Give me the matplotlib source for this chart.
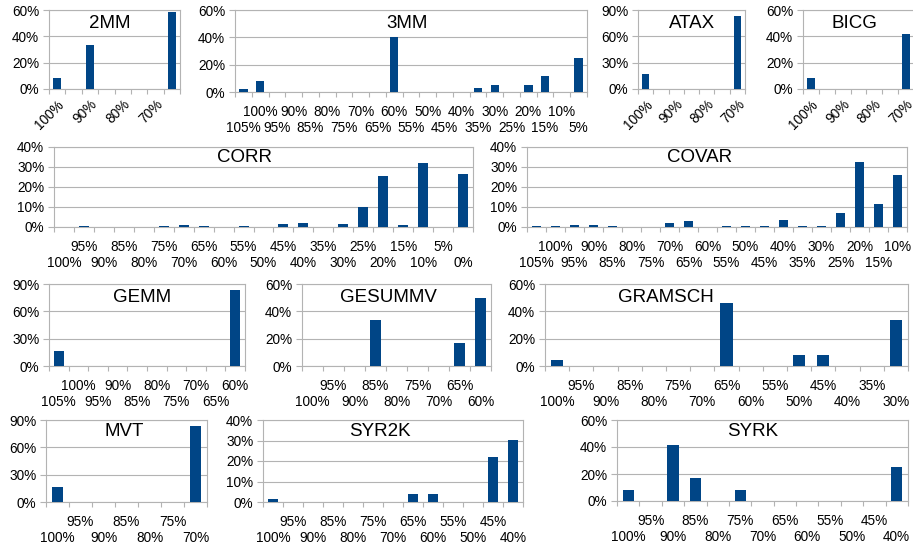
import numpy as np
import matplotlib
matplotlib.use("Agg")
import matplotlib.pyplot as plt
from matplotlib.ticker import FuncFormatter

plt.rcParams['font.family'] = ['Liberation Sans', 'DejaVu Sans']

W, H = 913, 548
BLUE = '#004586'
GREY = '#b3b3b3'

# data: share of runs per approximation level (percent)
cats_2mm = ["100%", "95%", "90%", "85%", "80%", "75%", "70%", "65%"]
vals_2mm = [8.3, 0, 33.3, 0, 0, 0, 0, 58.3]

cats_3mm = ["105%", "100%", "95%", "90%", "85%", "80%", "75%", "70%", "65%", "60%", "55%",
            "50%", "45%", "40%", "35%", "30%", "25%", "20%", "15%", "10%", "5%"]
vals_3mm = [2.4, 7.8, 0, 0, 0, 0, 0, 0, 0, 40, 0, 0, 0, 0, 3.2, 5.4, 0, 5.4, 12, 0, 25.1]

cats_atax = ["100%", "95%", "90%", "85%", "80%", "75%", "70%"]
vals_atax = [16.7, 0, 0, 0, 0, 0, 83.3]

cats_bicg = ["100%", "95%", "90%", "85%", "80%", "75%", "70%"]
vals_bicg = [8.3, 0, 0, 0, 0, 0, 41.7]

cats_corr = ["100%", "95%", "90%", "85%", "80%", "75%", "70%", "65%", "60%", "55%", "50%",
             "45%", "40%", "35%", "30%", "25%", "20%", "15%", "10%", "5%", "0%"]
vals_corr = [0, 0.3, 0, 0, 0, 0.3, 0.8, 0.3, 0, 0.3, 0,
             1.3, 2.1, 0, 1.3, 10.2, 25.5, 0.8, 31.9, 0, 26.6]

cats_covar = ["105%", "100%", "95%", "90%", "85%", "80%", "75%", "70%", "65%", "60%",
              "55%", "50%", "45%", "40%", "35%", "30%", "25%", "20%", "15%", "10%"]
vals_covar = [0.3, 0.3, 1.2, 1.2, 0.3, 0, 0, 2.1, 3.1, 0,
              0.3, 0.3, 0.3, 3.6, 0.3, 0.7, 7.1, 32.4, 11.6, 26]

cats_gemm = ["105%", "100%", "95%", "90%", "85%", "80%", "75%", "70%", "65%", "60%"]
vals_gemm = [16.7, 0, 0, 0, 0, 0, 0, 0, 0, 83.3]

cats_gesummv = ["100%", "95%", "90%", "85%", "80%", "75%", "70%", "65%", "60%"]
vals_gesummv = [0, 0, 0, 33.3, 0, 0, 0, 16.7, 50]

cats_gramsch = ["100%", "95%", "90%", "85%", "80%", "75%", "70%", "65%", "60%", "55%",
                "50%", "45%", "40%", "35%", "30%"]
vals_gramsch = [4.2, 0, 0, 0, 0, 0, 0, 45.8, 0, 0, 8.3, 8.3, 0, 0, 33.3]

cats_mvt = ["100%", "95%", "90%", "85%", "80%", "75%", "70%"]
vals_mvt = [16.7, 0, 0, 0, 0, 0, 83.3]

cats_syr2k = ["100%", "95%", "90%", "85%", "80%", "75%", "70%", "65%", "60%", "55%",
              "50%", "45%", "40%"]
vals_syr2k = [1.7, 0, 0, 0, 0, 0, 0, 3.8, 3.8, 0, 0, 22, 30.3]

cats_syrk = ["100%", "95%", "90%", "85%", "80%", "75%", "70%", "65%", "60%", "55%",
             "50%", "45%", "40%"]
vals_syrk = [8.3, 0, 41.7, 16.7, 0, 8.3, 0, 0, 0, 0, 0, 0, 25]

fig = plt.figure(figsize=(W / 100, H / 100), dpi=100)


def panel(name, cats, vals, ymax, ystep, box, title_xy, rotated=False):
    # box in pixels: left, right, top, bottom of the plot area
    x0, x1, yt, yb = box
    ax = fig.add_axes([x0 / W, 1 - yb / H, (x1 - x0) / W, (yb - yt) / H])
    n = len(cats)
    ax.bar(np.arange(n), vals, width=0.5, color=BLUE, zorder=3)
    ax.set_xlim(-0.5, n - 0.5)
    ax.set_ylim(0, ymax)
    ax.set_yticks(np.arange(0, ymax + 0.1, ystep))
    ax.yaxis.set_major_formatter(FuncFormatter(lambda v, p: f"{v:.0f}%"))
    ax.grid(axis='y', color=GREY, lw=0.8, zorder=0)
    for s in ax.spines.values():
        s.set_color(GREY)
        s.set_linewidth(0.8)
    ax.tick_params(axis='y', length=4, width=0.8, color=GREY, pad=3,
                   labelsize=9.8, labelcolor='black')
    ax.set_xticks(np.arange(-0.5, n), minor=True)
    ax.tick_params(axis='x', which='minor', length=3.6, width=0.8, color=GREY)
    if rotated:
        labels = [c if i % 2 == 0 else "" for i, c in enumerate(cats)]
        ax.set_xticks(np.arange(n), labels, rotation=45, ha='right',
                      rotation_mode='anchor')
        ax.tick_params(axis='x', which='major', length=0, pad=6, labelsize=9.8)
    else:
        # two staggered label rows, like the original office chart
        labels = ["\n" + c if i % 2 == 0 else c for i, c in enumerate(cats)]
        ax.set_xticks(np.arange(n), labels, linespacing=1.15)
        ax.tick_params(axis='x', which='major', length=0, pad=9.5, labelsize=9.8)
    fig.text(title_xy[0] / W, 1 - title_xy[1] / H, name, ha='center',
             va='center', fontsize=13.5)
    return ax


panel("2MM", cats_2mm, vals_2mm, 60, 20, (49, 180, 10, 89), (110, 24), rotated=True)
panel("3MM", cats_3mm, vals_3mm, 60, 20, (235, 587, 10, 92), (407, 24))
panel("ATAX", cats_atax, vals_atax, 90, 30, (638, 745, 10, 89), (692, 24), rotated=True)
panel("BICG", cats_bicg, vals_bicg, 60, 20, (803, 914, 10, 89), (854, 24), rotated=True)

panel("CORR", cats_corr, vals_corr, 40, 10, (54, 473, 147, 227), (244, 158))
panel("COVAR", cats_covar, vals_covar, 40, 10, (527, 907, 147, 227), (700, 158))

panel("GEMM", cats_gemm, vals_gemm, 90, 30, (49, 245, 284, 366), (142, 298))
panel("GESUMMV", cats_gesummv, vals_gesummv, 60, 20, (302, 491, 284, 366), (388, 298))
panel("GRAMSCH", cats_gramsch, vals_gramsch, 60, 20, (545, 908, 284, 366), (666, 298))

panel("MVT", cats_mvt, vals_mvt, 90, 30, (46, 207, 420, 502), (124, 432))
panel("SYR2K", cats_syr2k, vals_syr2k, 40, 10, (263, 523, 420, 502), (380, 432))
panel("SYRK", cats_syrk, vals_syrk, 60, 20, (617, 908, 420, 501), (753, 432))

fig.savefig("out.png", dpi=100)
